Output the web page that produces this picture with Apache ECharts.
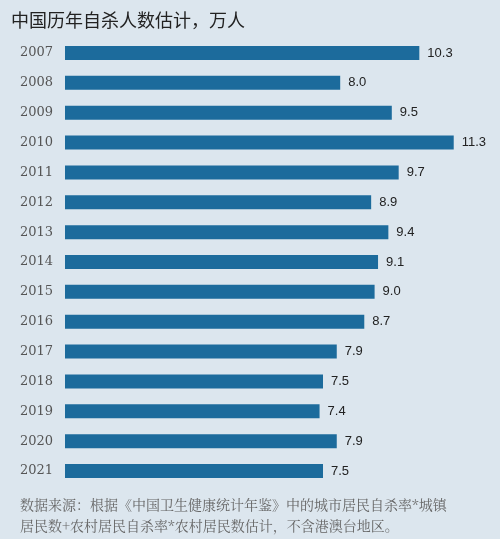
<!DOCTYPE html>
<html><head><meta charset="utf-8">
<script src="https://cdn.jsdelivr.net/npm/echarts@6/dist/echarts.min.js"></script>
<style>html,body{margin:0;background:#dce6ee}#c{width:500px;height:539px}</style>
</head><body><div id="c"></div>
<script>
const years = ['2007','2008','2009','2010','2011','2012','2013','2014','2015','2016','2017','2018','2019','2020','2021'];
const values = [10.3, 8.0, 9.5, 11.3, 9.7, 8.9, 9.4, 9.1, 9.0, 8.7, 7.9, 7.5, 7.4, 7.9, 7.5];

const chart = echarts.init(document.getElementById('c'));
chart.setOption({
  backgroundColor: '#dce6ee',
  animation: false,
  title: {
    text: '中国历年自杀人数估计，万人', left: 6, top: 6,
    textStyle: { fontFamily: 'Noto Sans CJK SC', fontSize: 18, fontWeight: 'normal', color: '#222' }
  },
  graphic: [{
    type: 'text', left: 20, top: 494,
    style: {
      text: '数据来源：根据《中国卫生健康统计年鉴》中的城市居民自杀率*城镇\n居民数+农村居民自杀率*农村居民数估计，不含港澳台地区。',
      font: '14px "Noto Serif CJK SC", "Noto Sans CJK SC", serif', fill: '#666', lineHeight: 21
    }
  }],
  grid: { left: 65, top: 38, width: 430, height: 448 },
  xAxis: { type: 'value', min: 0, max: 12.5, show: false },
  yAxis: {
    type: 'category', data: years, inverse: true,
    axisLine: { show: false }, axisTick: { show: false },
    axisLabel: { margin: 12, color: '#555', fontFamily: 'DejaVu Serif', fontSize: 13 }
  },
  series: [{
    type: 'bar', data: values, barWidth: 14,
    itemStyle: { color: '#1c6b9c' },
    label: {
      show: true, position: 'right', distance: 8, color: '#222', fontSize: 13,
      fontFamily: 'Liberation Sans', formatter: p => p.value.toFixed(1)
    }
  }]
});
</script></body></html>
